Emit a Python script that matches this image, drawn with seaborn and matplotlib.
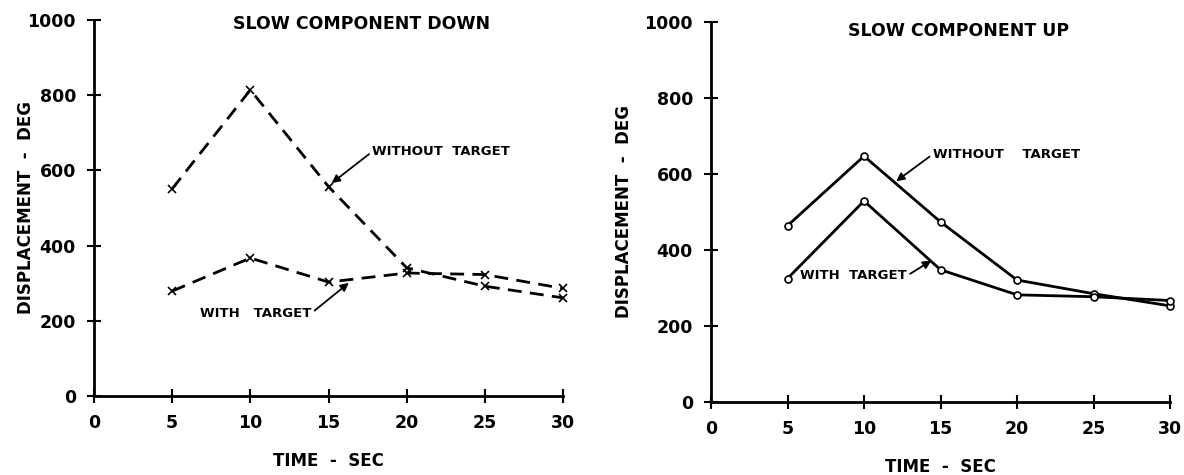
import matplotlib
matplotlib.use("Agg")
import matplotlib.pyplot as plt
import seaborn as sns
import pandas as pd

# ---- data ----
time_sec = [5, 10, 15, 20, 25, 30]
down_without_target = [551, 814, 557, 341, 292, 261]
down_with_target = [279, 367, 303, 327, 323, 286]
up_without_target = [464, 647, 474, 321, 285, 253]
up_with_target = [325, 529, 348, 282, 277, 267]
x_ticks = [0, 5, 10, 15, 20, 25, 30]
y_ticks = [0, 200, 400, 600, 800, 1000]
titles = ["SLOW COMPONENT DOWN", "SLOW COMPONENT UP"]
x_label = "TIME  -  SEC"
y_label = "DISPLACEMENT  -  DEG"

sns.set_theme(style="white")
plt.rcParams['font.family'] = ['DejaVu Sans']
plt.rcParams['font.weight'] = 'bold'
plt.rcParams['text.color'] = 'black'
plt.rcParams['axes.labelcolor'] = 'black'
plt.rcParams['xtick.color'] = 'black'
plt.rcParams['ytick.color'] = 'black'

fig = plt.figure(figsize=(11.84, 4.75), dpi=100)
axL = fig.add_axes([94 / 1184, 1 - 396 / 475, 469 / 1184, 376 / 475])
axR = fig.add_axes([711 / 1184, 1 - 402 / 475, 459 / 1184, 380 / 475])

def style_axis(ax, title, title_x, title_y, ylab_x):
    ax.set_xlim(0, 30)
    ax.set_ylim(0, 1000)
    for s in ["top", "right"]:
        ax.spines[s].set_visible(False)
    for s in ["left", "bottom"]:
        ax.spines[s].set_color("black")
        ax.spines[s].set_linewidth(2.0)
    ax.set_xticks(x_ticks)
    ax.set_yticks(y_ticks)
    ax.set_xticklabels([str(t) for t in x_ticks], fontsize=12.5, fontweight='bold')
    ax.set_yticklabels([str(t) for t in y_ticks], fontsize=12.5, fontweight='bold')
    ax.tick_params(axis='both', direction='inout', length=10, width=1.5,
                   color='black', bottom=True, left=True)
    ax.tick_params(axis='x', pad=8)
    ax.tick_params(axis='y', pad=8)
    ax.set_xlabel(x_label, fontsize=12, fontweight='bold', labelpad=14)
    ax.set_ylabel(y_label, fontsize=12, fontweight='bold')
    ax.yaxis.set_label_coords(ylab_x, 0.5)
    ax.text(title_x, title_y, title, transform=ax.transAxes, ha='center', va='center',
            fontsize=12.5, fontweight='bold')
    ax.grid(False)

# Left panel: dashed with x markers
df_l = pd.DataFrame({"t": time_sec * 2,
                     "v": down_without_target + down_with_target,
                     "s": ["without"] * 6 + ["with"] * 6})
for name in ["without", "with"]:
    sub = df_l[df_l.s == name]
    sns.lineplot(data=sub, x="t", y="v", ax=axL, color="black", linestyle=(0, (5, 3)),
                 linewidth=2.0, marker="x", markersize=6, markeredgewidth=1.2,
                 markeredgecolor="black", clip_on=False)

# Right panel: solid with open circles
df_r = pd.DataFrame({"t": time_sec * 2,
                     "v": up_without_target + up_with_target,
                     "s": ["without"] * 6 + ["with"] * 6})
for name in ["without", "with"]:
    sub = df_r[df_r.s == name]
    sns.lineplot(data=sub, x="t", y="v", ax=axR, color="black", linestyle="-",
                 linewidth=2.0, marker="o", markersize=5, markerfacecolor="white",
                 markeredgecolor="black", markeredgewidth=1.2, clip_on=False)

style_axis(axL, titles[0], 0.571, 0.99, -0.125)
style_axis(axR, titles[1], 0.54, 0.975, -0.17)

arrow = dict(arrowstyle="-|>", color="black", lw=1.3, mutation_scale=12, shrinkA=0, shrinkB=0)

axL.annotate("WITHOUT  TARGET", xy=(15.2, 566), xytext=(17.8, 650),
             fontsize=9.5, fontweight='bold', ha='left', va='center',
             arrowprops=dict(arrow, relpos=(0, 0.5)))
axL.annotate("WITH   TARGET", xy=(16.3, 301), xytext=(13.9, 220),
             fontsize=9.5, fontweight='bold', ha='right', va='center',
             arrowprops=dict(arrow, relpos=(1, 0.5)))

axR.annotate("WITHOUT    TARGET", xy=(12.1, 581), xytext=(14.5, 652),
             fontsize=9.5, fontweight='bold', ha='left', va='center',
             arrowprops=dict(arrow, relpos=(0, 0.5)))
axR.annotate("WITH  TARGET", xy=(14.4, 372), xytext=(12.8, 332),
             fontsize=9.5, fontweight='bold', ha='right', va='center',
             arrowprops=dict(arrow, relpos=(1, 0.5)))

fig.savefig("out.png", dpi=100, facecolor="white")
